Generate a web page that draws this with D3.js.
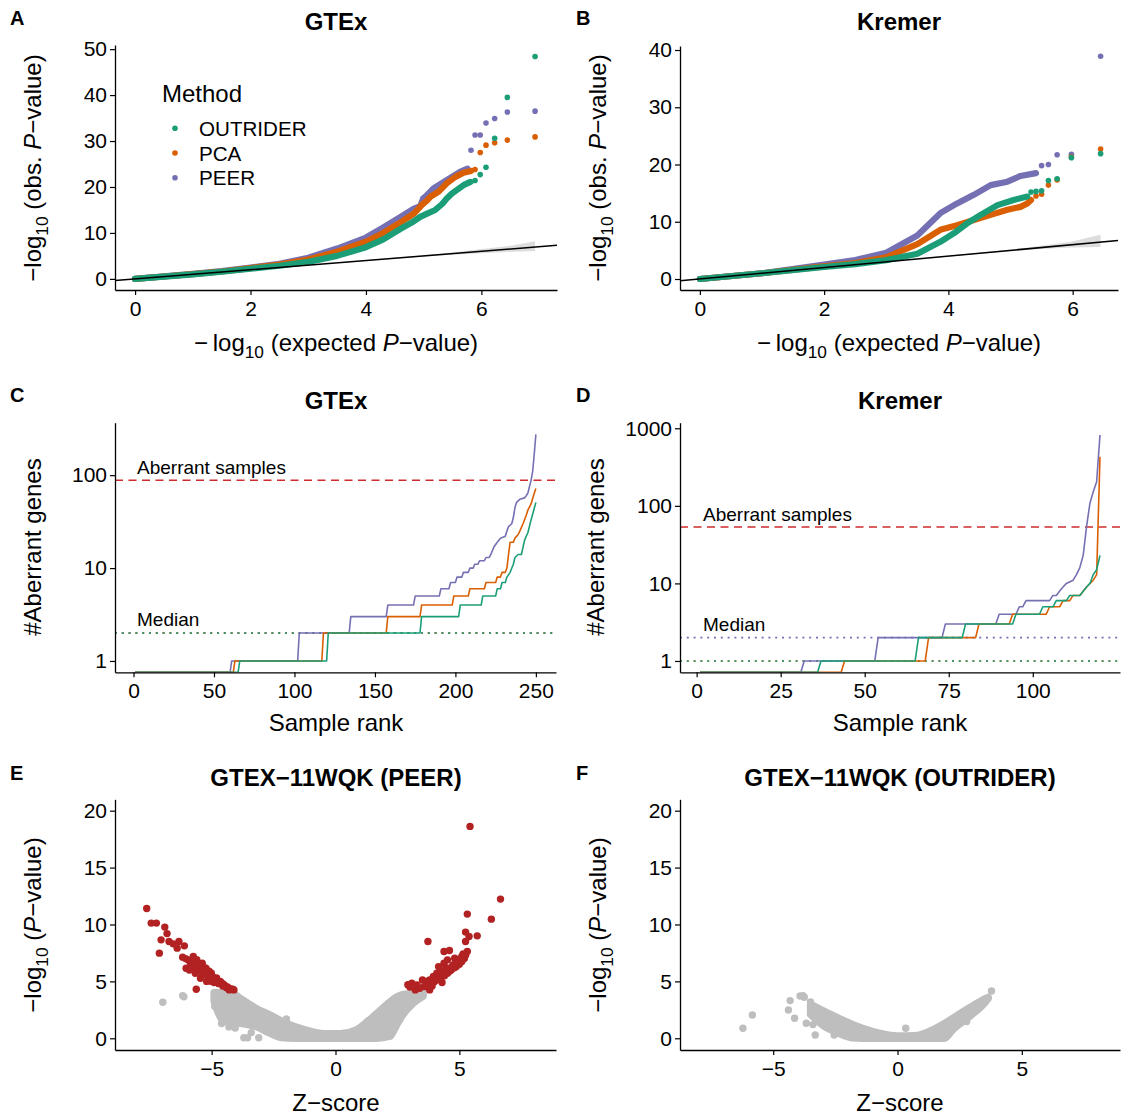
<!DOCTYPE html>
<html>
<head>
<meta charset="utf-8">
<script src="https://cdn.jsdelivr.net/npm/d3@7"></script>
<style>
  body { margin: 0; background: #fff; }
  svg { font-family: "Liberation Sans", Arial, Helvetica, sans-serif; }
</style>
</head>
<body>
<svg id="fig" width="1123" height="1117"></svg>
<script>
// ---------- methods ----------
const methods = ["OUTRIDER", "PCA", "PEER"];
const methodColors = { OUTRIDER: "#1B9E77", PCA: "#D95F02", PEER: "#7570B3" };

// ---------- A: GTEx Q-Q (expected, observed -log10 P) ----------
// dense part of each curve
const gtexBandPEER = [[0,0],[0.5,0.55],[1,1.1],[1.5,1.7],[2,2.45],[2.5,3.3],[3,4.6],[3.5,6.6],[4,9.0],[4.3,11.2],[4.6,13.5],[4.83,15.3],[4.94,15.8],[4.99,17.5],[5.03,17.9],[5.17,19.7],[5.35,21.1],[5.49,22.2],[5.63,23.3],[5.76,24.0]];
const gtexBandPCA = [[0,0],[0.5,0.52],[1,1.05],[1.5,1.6],[2,2.35],[2.5,3.1],[3,4.2],[3.5,5.9],[4,8.1],[4.3,10.0],[4.6,12.3],[4.83,14.2],[4.97,16.1],[5.06,17.1],[5.12,17.9],[5.26,19.0],[5.40,20.8],[5.55,22.2],[5.69,23.1],[5.82,23.5]];
const gtexBandOUTRIDER = [[0,0],[0.5,0.5],[1,1.0],[1.5,1.55],[2,2.2],[2.5,2.85],[3,3.7],[3.5,5.0],[4,6.9],[4.3,8.6],[4.6,10.9],[4.8,12.3],[4.94,13.5],[5.06,14.2],[5.20,15.0],[5.32,16.3],[5.40,17.5],[5.49,18.6],[5.58,19.4],[5.69,20.4],[5.81,21.1]];
// most extreme individual points
const gtexTailPEER = [[5.82,28.0],[5.89,31.3],[5.98,31.3],[6.08,33.9],[6.23,34.9],[6.45,36.3],[6.93,36.5]];
const gtexTailPCA = [[5.89,23.8],[5.98,27.5],[6.08,29.1],[6.23,29.6],[6.45,30.2],[6.93,30.9]];
const gtexTailOUTRIDER = [[5.89,21.4],[5.98,22.7],[6.08,24.3],[6.23,30.6],[6.45,39.5],[6.93,48.4]];
// 95% band of the expected order statistics
const gtexCiX = [3, 4, 5, 5.5, 6, 6.45, 6.93];
const gtexCiLow = [2.96, 3.92, 4.86, 5.27, 5.6, 5.85, 6.06];
const gtexCiHigh = [3.04, 4.08, 5.14, 5.75, 6.5, 7.1, 8.2];

// ---------- B: Kremer Q-Q ----------
const kremerBandPEER = [[0,0],[1,1.0],[2,2.5],[2.5,3.3],[3,4.6],[3.5,7.6],[3.87,11.5],[4.14,13.2],[4.41,14.7],[4.68,16.4],[4.95,17.0],[5.16,18.0],[5.41,18.5]];
const kremerBandPCA = [[0,0],[1,1.0],[2,2.2],[2.5,2.8],[3,3.8],[3.5,6.1],[3.87,8.6],[4.14,9.4],[4.41,10.3],[4.68,11.2],[4.95,12.1],[5.16,12.6],[5.27,13.2],[5.33,13.8]];
const kremerBandOUTRIDER = [[0,0],[1,1.0],[2,2.1],[2.5,2.6],[3,3.3],[3.5,4.4],[3.87,6.5],[4.09,8.0],[4.30,9.7],[4.52,11.2],[4.79,12.9],[5.05,13.8],[5.27,14.4]];
const kremerTailPEER = [[5.50,19.8],[5.61,20.0],[5.75,21.7],[5.98,21.8],[6.45,38.9]];
const kremerTailPCA = [[5.41,14.5],[5.50,14.8],[5.61,16.4],[5.75,17.3],[5.98,21.3],[6.45,22.7]];
const kremerTailOUTRIDER = [[5.33,15.2],[5.41,15.3],[5.50,15.4],[5.61,17.2],[5.75,17.5],[5.98,21.2],[6.45,21.9]];
const kremerCiX = [3, 4, 5, 5.5, 5.97, 6.45];
const kremerCiLow = [2.96, 3.92, 4.86, 5.25, 5.5, 5.58];
const kremerCiHigh = [3.04, 4.08, 5.14, 5.8, 6.5, 7.75];

// ---------- C / D: aberrant genes per sample, ordered by rank ----------
const gtexRankPEER = [[1,0],[60,0],[61,1],[102,1],[103,2],[134,2],[135,3],[157,3],[158,4],[174,4],[175,5],[190,5],[191,6],[196,6],[197,7],[200,7],[201,8],[204,8],[205,9],[208,9],[209,10],[211,10],[212,11],[214,11],[215,12],[218,12],[219,13],[221,13],[222,14],[224,17],[226,19],[228,21],[231,22],[232,25],[233,28],[235,30],[236,35],[237,45],[238,51],[240,55],[243,57],[244,60],[245,64],[246,75],[247,88],[248,110],[249,170],[250,275]];
const gtexRankPCA = [[1,0],[62,0],[63,1],[117,1],[118,2],[157,2],[158,3],[178,3],[179,4],[198,4],[199,5],[208,5],[209,6],[218,6],[219,7],[225,7],[226,8],[228,8],[229,9],[231,9],[232,10],[233,14],[234,19],[236,19],[237,21],[239,23],[240,25],[242,30],[244,37],[245,42],[247,49],[248,56],[249,64],[250,72]];
const gtexRankOUTRIDER = [[1,0],[65,0],[66,1],[120,1],[121,2],[178,2],[179,3],[202,3],[203,4],[216,4],[217,5],[225,5],[226,6],[228,6],[229,7],[231,7],[232,8],[234,9],[236,11],[237,13],[239,14],[241,14],[243,20],[244,22],[245,24],[246,28],[247,33],[248,38],[249,44],[250,51]];
const gtexAberrantCut = 88.3;
const gtexMedians = { PEER: 2, PCA: 2, OUTRIDER: 2 };

const kremerRankPEER = [[1,0],[31,0],[32,1],[53,1],[54,2],[73,2],[74,3],[89,3],[90,4],[95,4],[96,5],[97,5],[98,6],[105,6],[106,7],[107,7],[108,8],[109,9],[110,10],[112,11],[113,13],[114,16],[115,23],[116,54],[117,108],[118,152],[119,205],[120,820]];
const kremerRankPCA = [[1,0],[43,0],[44,1],[68,1],[69,2],[83,2],[84,3],[93,3],[94,4],[104,4],[105,5],[108,5],[109,6],[111,6],[112,7],[114,7],[116,9],[118,11],[119,13],[120,430]];
const kremerRankOUTRIDER = [[1,0],[36,0],[37,1],[65,1],[66,2],[79,2],[80,3],[94,3],[95,4],[102,4],[103,5],[106,5],[107,6],[110,6],[111,7],[114,7],[116,9],[117,10],[118,13],[119,15],[120,23]];
const kremerAberrantCut = 53.4;
const kremerMedians = { PEER: 2, PCA: 1, OUTRIDER: 1 };

// ---------- E / F: one sample, Z-score vs -log10 P ----------
// bulk of non-significant genes: outline of the dense cloud
const peerCloudZ = [-4.9,-4.5,-4.12,-3.9,-3.18,-2.7,-2.1,-1.16,-0.49,0.18,0.85,1.1,1.66,2.2,2.45,2.73,3.1,3.54];
const peerCloudUpper = [4.0,4.0,3.92,3.6,2.6,2.1,1.43,0.69,0.4,0.4,0.75,1.13,2.17,3.2,3.6,3.85,3.92,3.92];
const peerCloudLower = [3.26,1.5,1.4,1.33,1.0,0.5,0.05,0,0,0,0,0,0,0.2,1.1,2.1,3.0,3.7];
const peerGrey = [[-6.97,3.17],[-6.17,3.75],[-6.12,3.65],[-4.87,2.79],[-4.6,1.3],[-3.7,0.05],[-3.55,0.05],[-3.1,0.05],[-3.4,0.5],[2.21,0.2],[-4.5,3.7],[-4.2,3.9],[-4.7,4.0],[-1.98,1.7],[-2.5,1.1],[1.3,1.5],[-3.5,1.3],[-4.3,1.0],[-4.05,0.9]];
const peerSignificant = [
  [-7.62,11.41],[-7.44,10.12],[-7.23,10.12],[-7.11,7.48],[-7.04,8.65],[-6.89,9.77],[-6.80,9.2],[-6.72,8.5],[-6.55,8.3],[-6.39,7.92],[-6.32,8.5],[-6.10,8.12],[-6.17,7.13],[-6.05,7.0],[-5.95,6.89],[-6.03,6.16],[-5.74,7.18],[-5.85,6.6],[-5.66,5.72],[-5.62,4.31],[-5.52,6.30],[-5.38,6.60],[-5.6,6.9],[-5.45,5.28],[-5.30,6.2],[-5.23,6.16],[-5.16,5.43],[-5.10,5.9],[-5.01,5.72],[-4.95,5.4],[-4.87,5.13],[-4.80,5.3],[-4.73,4.84],[-4.65,5.0],[-4.58,4.84],[-4.50,4.7],[-4.44,4.55],[-4.36,4.5],[-4.29,4.25],[-4.15,4.31],[-5.75,6.3],[-5.55,5.9],[-5.35,5.7],[-5.2,5.0],[-4.9,4.9],[-5.0,5.0],[-5.9,6.0],[-5.45,6.05],
  [-5.8,6.8],[-5.65,6.4],[-5.5,6.2],[-5.3,5.9],[-5.15,5.6],[-5.05,5.35],[-4.85,5.05],[-4.7,4.8],[-4.55,4.6],[-4.4,4.45],[-4.25,4.35],[-4.1,4.25],
  [5.43,18.62],[6.66,12.23],[5.32,10.91],[6.29,10.47],[5.25,9.33],[5.72,9.00],[5.39,8.94],[5.25,8.50],[3.73,8.50],[4.38,7.62],[4.60,7.71],[5.32,7.62],[5.10,7.18],[4.81,7.04],[4.52,6.89],[4.38,6.60],[4.74,6.45],[4.96,6.74],[4.16,6.30],[4.31,5.86],[4.09,5.72],[3.95,5.43],[3.80,5.13],[3.66,4.99],[3.51,5.13],[3.08,4.84],[3.29,4.69],[3.58,4.55],[3.22,4.25],[3.80,4.25],[4.23,5.28],[4.52,5.72],[4.67,6.01],[4.88,6.30],[5.10,6.74],[4.0,5.0],[4.1,5.2],[4.4,5.5],[4.6,5.9],[4.8,6.2],[5.0,6.5],[5.2,7.0],[4.45,6.2],[4.3,4.9],[3.9,4.6],[4.2,5.6],[4.9,6.9],[5.15,7.4],
  [3.7,4.5],[3.9,4.8],[4.05,5.1],[4.25,5.4],[4.45,5.8],[4.65,6.2],[4.85,6.6],[5.05,7.0],[5.25,7.3],[3.4,4.4],[2.92,4.7],[3.0,4.5]
];
const outriderCloudZ = [-3.5,-2.95,-2.4,-1.8,-1.0,-0.65,0,0.8,1.5,1.9,2.2,2.95,3.5,3.65];
const outriderCloudUpper = [2.98,2.38,1.8,1.2,0.6,0.4,0.2,0.26,0.84,1.3,1.72,2.75,3.45,3.6];
const outriderCloudLower = [2.1,1.06,0.48,0.05,0,0,0,0,0,0,0.7,2.0,3.1,3.5];
const outriderGrey = [[-6.22,0.88],[-5.84,2.05],[-4.32,3.31],[-4.39,2.49],[-3.92,3.72],[-3.75,3.6],[-3.8,3.75],[-4.14,1.76],[-3.67,1.32],[-3.31,0.29],[-2.55,0.29],[0.33,0.88],[2.78,1.47],[3.78,4.16],[-3.5,3.2],[-3.4,1.2]];
const outriderSignificant = [];

// ---------- tick labels ----------
const qqTicksA = { x: [0, 2, 4, 6], y: [0, 10, 20, 30, 40, 50] };
const qqTicksB = { x: [0, 2, 4, 6], y: [0, 10, 20, 30, 40] };
const rankTicksC = { x: [0, 50, 100, 150, 200, 250], y: [1, 10, 100] };
const rankTicksD = { x: [0, 25, 50, 75, 100], y: [1, 10, 100, 1000] };
const volcanoTicks = { x: [-5, 0, 5], y: [0, 5, 10, 15, 20] };

// ================= drawing =================
const FONT = '"Liberation Sans", Arial, Helvetica, sans-serif';
const svg = d3.select("#fig");
const fmtNum = d => (d < 0 ? "\u2212" + Math.abs(d) : String(d));

function makePanel(p) {
  const x = (p.xLog ? d3.scaleLog() : d3.scaleLinear()).domain(p.xDomain).range([p.left, p.right]);
  const y = (p.yLog ? d3.scaleLog() : d3.scaleLinear()).domain(p.yDomain).range([p.bottom, p.top]);
  svg.append("clipPath").attr("id", "clip-" + p.id).append("rect")
    .attr("x", p.left).attr("y", p.top - 2).attr("width", p.right - p.left).attr("height", p.bottom - p.top + 2);
  const plot = svg.append("g").attr("clip-path", `url(#clip-${p.id})`);
  return { x, y, plot, p };
}

function drawAxes(P, ticks) {
  const { x, y, p } = P;
  const gx = svg.append("g").attr("transform", `translate(0,${p.bottom})`)
    .call(d3.axisBottom(x).tickValues(ticks.x).tickFormat(fmtNum).tickSize(5).tickSizeOuter(0).tickPadding(6));
  const gy = svg.append("g").attr("transform", `translate(${p.left},0)`)
    .call(d3.axisLeft(y).tickValues(ticks.y).tickFormat(fmtNum).tickSize(5).tickSizeOuter(0).tickPadding(3));
  [gx, gy].forEach(g => {
    g.attr("font-size", 21).attr("font-family", FONT);
    g.select(".domain").attr("stroke", "#000").attr("stroke-width", 1.3);
    g.selectAll(".tick line").attr("stroke", "#000").attr("stroke-width", 1.2);
    g.selectAll(".tick text").attr("fill", "#000");
  });
}

function plainText(x, y, s, o = {}) {
  return svg.append("text").attr("x", x).attr("y", y).text(s)
    .attr("font-size", o.size || 20).attr("font-weight", o.bold ? "bold" : null)
    .attr("text-anchor", o.anchor || "start").attr("fill", "#000");
}

// label with "-log10" prefix and an italic P
function logLabel(x, y, parts, rotate, size) {
  const t = svg.append("text").attr("font-size", size).attr("text-anchor", "middle").attr("fill", "#000");
  if (rotate) t.attr("transform", `translate(${x},${y}) rotate(-90)`);
  else t.attr("x", x).attr("y", y);
  t.append("tspan").text(parts.prefix);
  t.append("tspan").text("10").attr("font-size", size * 0.72).attr("dy", size * 0.28);
  t.append("tspan").text(parts.before).attr("dy", -size * 0.28);
  t.append("tspan").text("P").attr("font-style", "italic");
  t.append("tspan").text(parts.after);
  return t;
}

function rotLabel(x, y, s, size) {
  svg.append("text").attr("transform", `translate(${x},${y}) rotate(-90)`)
    .attr("text-anchor", "middle").attr("font-size", size).attr("fill", "#000").text(s);
}

// ---------- Q-Q panels ----------
function qqPanel(cfg) {
  const P = makePanel(cfg.box);
  const { x, y, plot } = P;
  // confidence ribbon
  const ci = cfg.ciX.map((v, i) => [v, cfg.ciLow[i], cfg.ciHigh[i]]);
  plot.append("path").datum(ci)
    .attr("d", d3.area().x(d => x(d[0])).y0(d => y(d[1])).y1(d => y(d[2])))
    .attr("fill", "#cfcfcf").attr("fill-opacity", 0.7);
  const line = d3.line().x(d => x(d[0])).y(d => y(d[1]));
  ["PEER", "PCA", "OUTRIDER"].forEach(m => {
    plot.append("path").datum(cfg.bands[m]).attr("d", line)
      .attr("fill", "none").attr("stroke", methodColors[m]).attr("stroke-width", 6.2)
      .attr("stroke-linecap", "round").attr("stroke-linejoin", "round");
    plot.selectAll(null).data(cfg.tails[m]).join("circle")
      .attr("cx", d => x(d[0])).attr("cy", d => y(d[1])).attr("r", 2.8)
      .attr("fill", methodColors[m]);
  });
  // identity line
  const xd = x.domain();
  plot.append("path").datum([[xd[0], xd[0]], [xd[1], xd[1]]]).attr("d", line)
    .attr("stroke", "#000").attr("stroke-width", 1.5).attr("fill", "none");
  drawAxes(P, cfg.ticks);
  return P;
}

const boxA = { id: "A", left: 115, right: 557, top: 45, bottom: 290, xDomain: [-0.348, 7.31], yDomain: [-2.42, 50.9] };
const boxB = { id: "B", left: 680, right: 1118, top: 46, bottom: 290, xDomain: [-0.32, 6.73], yDomain: [-1.92, 40.7] };

qqPanel({ box: boxA, ticks: qqTicksA, ciX: gtexCiX, ciLow: gtexCiLow, ciHigh: gtexCiHigh,
  bands: { PEER: gtexBandPEER, PCA: gtexBandPCA, OUTRIDER: gtexBandOUTRIDER },
  tails: { PEER: gtexTailPEER, PCA: gtexTailPCA, OUTRIDER: gtexTailOUTRIDER } });
qqPanel({ box: boxB, ticks: qqTicksB, ciX: kremerCiX, ciLow: kremerCiLow, ciHigh: kremerCiHigh,
  bands: { PEER: kremerBandPEER, PCA: kremerBandPCA, OUTRIDER: kremerBandOUTRIDER },
  tails: { PEER: kremerTailPEER, PCA: kremerTailPCA, OUTRIDER: kremerTailOUTRIDER } });

// legend
plainText(162, 101.5, "Method", { size: 24 });
methods.forEach((m, i) => {
  const cy = 128.3 + i * 24.7;
  svg.append("circle").attr("cx", 175).attr("cy", cy).attr("r", 2.8).attr("fill", methodColors[m]);
  plainText(199, cy + 7.5, m, { size: 20.6 });
});

// ---------- rank panels ----------
function rankPanel(cfg) {
  const P = makePanel(cfg.box);
  const { x, y, plot, p } = P;
  const yv = v => (v > 0 ? y(v) : p.bottom);
  const line = d3.line().x(d => x(d[0])).y(d => yv(d[1]));
  const xd = x.domain();
  // cutoff for aberrant samples
  plot.append("line").attr("x1", x(xd[0])).attr("x2", x(xd[1]))
    .attr("y1", y(cfg.cut)).attr("y2", y(cfg.cut))
    .attr("stroke", "#CD2B2E").attr("stroke-width", 1.6).attr("stroke-dasharray", "8,5.5");
  // medians
  ["PEER", "PCA", "OUTRIDER"].forEach(m => {
    plot.append("line").attr("x1", x(xd[0])).attr("x2", x(xd[1]))
      .attr("y1", y(cfg.medians[m])).attr("y2", y(cfg.medians[m]))
      .attr("stroke", methodColors[m]).attr("stroke-width", 1.7).attr("stroke-dasharray", "2,4.8");
  });
  ["PEER", "PCA", "OUTRIDER"].forEach(m => {
    plot.append("path").datum(cfg.series[m]).attr("d", line)
      .attr("fill", "none").attr("stroke", methodColors[m]).attr("stroke-width", 1.6)
      .attr("stroke-linejoin", "round");
  });
  drawAxes(P, cfg.ticks);
  plainText(cfg.textX, y(cfg.cut) - 6, "Aberrant samples", { size: 19 });
  plainText(cfg.textX, y(cfg.medians.PEER) - 7, "Median", { size: 19 });
  return P;
}

const boxC = { id: "C", left: 115, right: 556, top: 422.7, bottom: 672.3, xDomain: [-11.5, 262.5], yDomain: [Math.pow(10, -0.122), Math.pow(10, 2.565)], yLog: true };
const boxD = { id: "D", left: 680, right: 1120, top: 422.7, bottom: 672.3, xDomain: [-4.95, 125.95], yDomain: [Math.pow(10, -0.146), Math.pow(10, 3.072)], yLog: true };

rankPanel({ box: boxC, ticks: rankTicksC, cut: gtexAberrantCut, medians: gtexMedians, textX: 137,
  series: { PEER: gtexRankPEER, PCA: gtexRankPCA, OUTRIDER: gtexRankOUTRIDER } });
rankPanel({ box: boxD, ticks: rankTicksD, cut: kremerAberrantCut, medians: kremerMedians, textX: 703,
  series: { PEER: kremerRankPEER, PCA: kremerRankPCA, OUTRIDER: kremerRankOUTRIDER } });

// ---------- volcano panels ----------
function volcanoPanel(cfg) {
  const P = makePanel(cfg.box);
  const { x, y, plot } = P;
  const R = 3.7;
  const cloud = cfg.cloudZ.map((z, i) => [z, cfg.cloudLower[i], cfg.cloudUpper[i]]);
  plot.append("path").datum(cloud)
    .attr("d", d3.area().x(d => x(d[0])).y0(d => y(d[1])).y1(d => y(d[2])).curve(d3.curveMonotoneX))
    .attr("fill", "#BEBEBE").attr("stroke", "#BEBEBE").attr("stroke-width", 2 * R)
    .attr("stroke-linejoin", "round");
  plot.selectAll(null).data(cfg.grey).join("circle")
    .attr("cx", d => x(d[0])).attr("cy", d => y(d[1])).attr("r", R).attr("fill", "#BEBEBE");
  plot.selectAll(null).data(cfg.sig).join("circle")
    .attr("cx", d => x(d[0])).attr("cy", d => y(d[1])).attr("r", R).attr("fill", "#B22222");
  drawAxes(P, volcanoTicks);
  return P;
}

const boxE = { id: "E", left: 115, right: 556, top: 799.3, bottom: 1050, xDomain: [-8.9, 8.9], yDomain: [-1.03, 21] };
const boxF = { id: "F", left: 680, right: 1120, top: 799.3, bottom: 1050, xDomain: [-8.75, 8.95], yDomain: [-1.03, 21] };

volcanoPanel({ box: boxE, cloudZ: peerCloudZ, cloudUpper: peerCloudUpper, cloudLower: peerCloudLower, grey: peerGrey, sig: peerSignificant });
volcanoPanel({ box: boxF, cloudZ: outriderCloudZ, cloudUpper: outriderCloudUpper, cloudLower: outriderCloudLower, grey: outriderGrey, sig: outriderSignificant });

// ---------- titles, tags and axis titles ----------
[["A", 10, 25], ["B", 576, 25], ["C", 10, 402], ["D", 576, 402], ["E", 10, 780], ["F", 576, 780]]
  .forEach(([s, x, y]) => plainText(x, y, s, { size: 20, bold: true }));

plainText(336, 30, "GTEx", { size: 24, bold: true, anchor: "middle" });
plainText(899, 30, "Kremer", { size: 24, bold: true, anchor: "middle" });
plainText(336, 409, "GTEx", { size: 24, bold: true, anchor: "middle" });
plainText(900, 409, "Kremer", { size: 24, bold: true, anchor: "middle" });
plainText(336, 786, "GTEX\u221211WQK (PEER)", { size: 24, bold: true, anchor: "middle" });
plainText(900, 786, "GTEX\u221211WQK (OUTRIDER)", { size: 24, bold: true, anchor: "middle" });

const qqX = { prefix: "\u2212\u2009log", before: " (expected ", after: "\u2212value)" };
const qqY = { prefix: "\u2212log", before: " (obs. ", after: "\u2212value)" };
const volY = { prefix: "\u2212log", before: " (", after: "\u2212value)" };
logLabel(336, 351, qqX, false, 24);
logLabel(899, 351, qqX, false, 24);
logLabel(41, 168, qqY, true, 24);
logLabel(606, 168, qqY, true, 24);

plainText(336, 731, "Sample rank", { size: 24, anchor: "middle" });
plainText(900, 731, "Sample rank", { size: 24, anchor: "middle" });
rotLabel(41, 547, "#Aberrant genes", 24);
rotLabel(604, 547, "#Aberrant genes", 24);

plainText(336, 1111, "Z\u2212score", { size: 24, anchor: "middle" });
plainText(900, 1111, "Z\u2212score", { size: 24, anchor: "middle" });
logLabel(41, 925, volY, true, 24);
logLabel(606, 925, volY, true, 24);
</script>
</body>
</html>
